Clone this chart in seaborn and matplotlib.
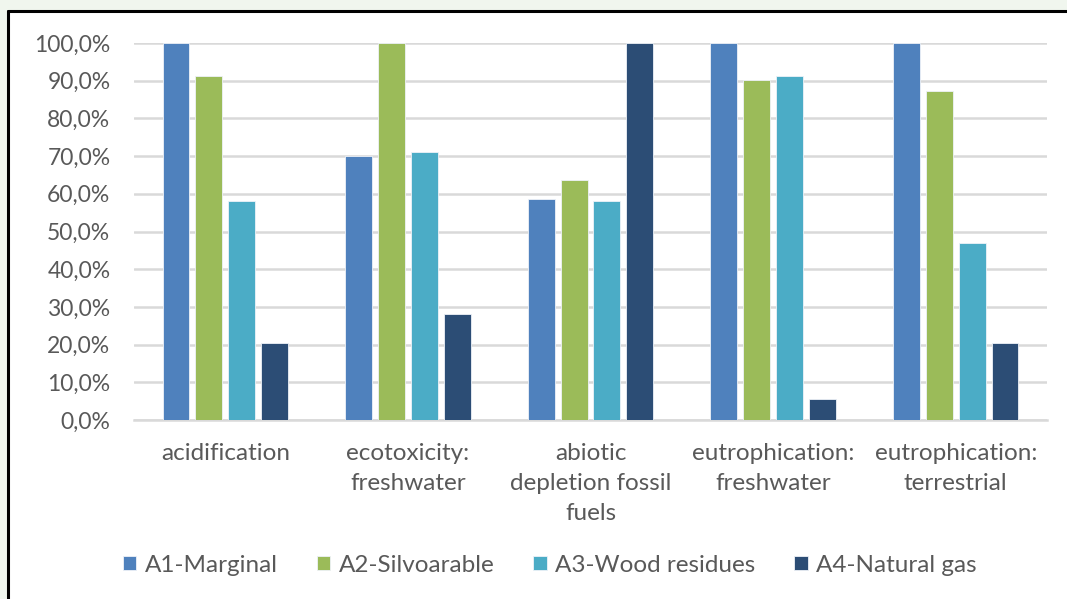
import matplotlib
matplotlib.use("Agg")
import matplotlib.pyplot as plt
from matplotlib.patches import Rectangle
from matplotlib.lines import Line2D
from matplotlib.ticker import FuncFormatter
import seaborn as sns
import pandas as pd

# Impact categories (x axis) and scenario series
categories = [
    "acidification",
    "ecotoxicity:\nfreshwater",
    "abiotic\ndepletion fossil\nfuels",
    "eutrophication:\nfreshwater",
    "eutrophication:\nterrestrial",
]
scenarios = ["A1-Marginal", "A2-Silvoarable", "A3-Wood residues", "A4-Natural gas"]

a1_marginal = [100.0, 70.0, 58.5, 100.0, 100.0]
a2_silvoarable = [91.3, 100.0, 63.7, 90.3, 87.3]
a3_wood_residues = [58.2, 71.2, 58.0, 91.3, 47.0]
a4_natural_gas = [20.3, 28.0, 100.0, 5.5, 20.3]

y_ticks = [0, 10, 20, 30, 40, 50, 60, 70, 80, 90, 100]

colors = ["#4F81BD", "#9BBB59", "#4BACC6", "#2C4D75"]
text_color = "#595959"
grid_color = "#D9D9D9"
tick_size = 16.5
label_size = 17.5

series = [a1_marginal, a2_silvoarable, a3_wood_residues, a4_natural_gas]
rows = []
for name, vals in zip(scenarios, series):
    for cat, v in zip(categories, vals):
        rows.append({"category": cat, "scenario": name, "value": v})
df = pd.DataFrame(rows)

sns.set_theme(style="white")
plt.rcParams["font.family"] = ["Lato", "DejaVu Sans"]

fig = plt.figure(figsize=(10.67, 5.99), dpi=100)
fig.patch.set_facecolor("#F0F6EE")

# White chart panel with dark frame on the left and top
W, H = 1067, 599
panel = Rectangle((8 / W, 0), 1.2, 1 - 11 / H, transform=fig.transFigure,
                  facecolor="white", edgecolor="none", zorder=-10)
fig.patches.append(panel)
fig.add_artist(Line2D([8 / W, 8 / W], [0, 1 - 11 / H], transform=fig.transFigure,
                      color="black", lw=2.2))
fig.add_artist(Line2D([8 / W, 1], [1 - 11 / H, 1 - 11 / H], transform=fig.transFigure,
                      color="black", lw=2.2))

ax = fig.add_axes([134 / W, 1 - 420 / H, (1047 - 134) / W, (420 - 43) / H])
ax.set_facecolor("none")

sns.barplot(data=df, x="category", y="value", hue="scenario", hue_order=scenarios,
            order=categories, palette=colors, saturation=1, width=0.72, gap=0.18,
            edgecolor="#EEF2F8", linewidth=0.6, errorbar=None, ax=ax, zorder=3)

ax.set_ylim(0, 100)
ax.set_xlim(-0.5, len(categories) - 0.5)
ax.set_yticks(y_ticks)
ax.yaxis.set_major_formatter(FuncFormatter(lambda v, _: f"{v:.1f}%".replace(".", ",")))
ax.grid(axis="y", color=grid_color, lw=1.8, zorder=0)
ax.set_axisbelow(True)
for s in ["left", "right", "top"]:
    ax.spines[s].set_visible(False)
ax.spines["bottom"].set_color(grid_color)
ax.spines["bottom"].set_linewidth(1.8)
ax.set_xlabel("")
ax.set_ylabel("")
ax.tick_params(axis="y", length=0, pad=17, labelsize=tick_size, labelcolor=text_color)
ax.tick_params(axis="x", length=0, pad=16.5, labelsize=label_size, labelcolor=text_color)
for lbl in ax.get_xticklabels():
    lbl.set_linespacing(1.53)

handles, labels = ax.get_legend_handles_labels()
ax.get_legend().remove()
fig.legend(handles, labels, loc="center", bbox_to_anchor=(550 / W, 1 - 565 / H),
           ncol=4, frameon=False, fontsize=label_size, labelcolor=text_color,
           handlelength=0.55, handleheight=0.55, handletextpad=0.35, columnspacing=1.6)

fig.savefig("out.png", dpi=100, facecolor=fig.get_facecolor())
